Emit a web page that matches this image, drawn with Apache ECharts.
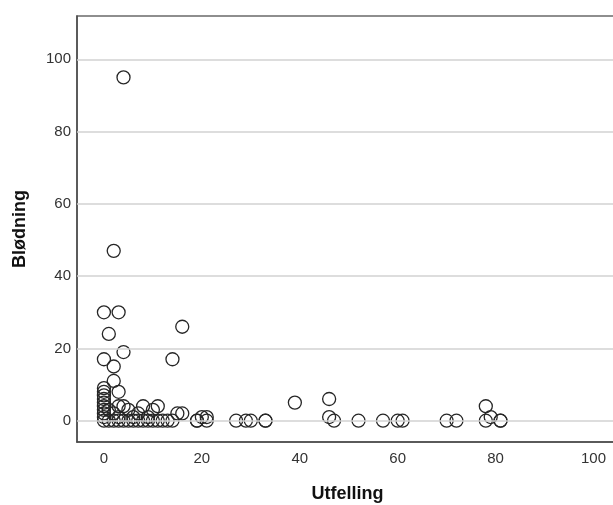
<!DOCTYPE html>
<html>
<head>
<meta charset="utf-8">
<script src="https://cdn.jsdelivr.net/npm/echarts@6/dist/echarts.min.js"></script>
<style>
html,body{margin:0;padding:0;background:#fff;}
#chart{width:613px;height:505px;}
</style>
</head>
<body>
<div id="chart"></div>
<script>
// Data
var utfelling = [
  0,0,0,0,0,0,0,0,0,0,0,0,
  1,1,1,
  2,2,2,2,2,
  3,3,3,3,3,
  4,4,4,4,
  5,5,
  6,6,
  7,7,
  8,8,
  9,9,
  10,10,
  11,11,
  12,13,
  14,14,
  15,
  16,16,
  19,19,20,21,21,
  27,29,30,33,33,
  39,
  46,46,47,
  52,57,60,61,
  70,72,
  78,78,79,81,81
];
var blodning = [
  0,1,2,3,4,5,6,7,8,9,17,30,
  24,0,3,
  47,15,11,0,2,
  30,8,4,0,1,
  95,19,4,0,
  3,0,
  0,1,
  2,0,
  4,0,
  0,1,
  3,0,
  4,0,
  0,0,
  17,0,
  2,
  26,2,
  0,0,1,1,0,
  0,0,0,0,0,
  5,
  6,1,0,
  0,0,0,0,
  0,0,
  4,0,1,0,0
];
var xTicks = [0, 20, 40, 60, 80, 100];
var yTicks = [0, 20, 40, 60, 80, 100];
var xTitle = 'Utfelling';
var yTitle = 'Blødning';

var points = utfelling.map(function (x, i) { return [x, blodning[i]]; });

var chart = echarts.init(document.getElementById('chart'), null, {renderer: 'canvas'});
var labelStyle = {color: '#333333', fontSize: 15, fontFamily: 'Liberation Sans, Arial, sans-serif'};
var option = {
  animation: false,
  backgroundColor: '#ffffff',
  grid: {
    left: 77, top: 16, right: -5, bottom: 63,
    containLabel: false, outerBoundsMode: 'none',
    show: true, borderColor: '#6a6a6a', borderWidth: 1.5, backgroundColor: '#ffffff'
  },
  xAxis: {
    type: 'value', min: -5.5, max: 105,
    name: xTitle, nameLocation: 'middle', nameGap: 43,
    nameTextStyle: {color: '#111', fontSize: 18, fontWeight: 'bold', fontFamily: 'Liberation Sans, Arial, sans-serif'},
    axisLine: {show: true, onZero: false, lineStyle: {color: '#4a4a4a', width: 1.5}},
    axisTick: {show: false, customValues: xTicks},
    axisLabel: Object.assign({customValues: xTicks, margin: 9}, labelStyle),
    splitLine: {show: false}
  },
  yAxis: {
    type: 'value', min: -5.9, max: 112,
    name: yTitle, nameLocation: 'middle', nameGap: 48, nameRotate: 90,
    nameTextStyle: {color: '#111', fontSize: 18, fontWeight: 'bold', fontFamily: 'Liberation Sans, Arial, sans-serif'},
    axisLine: {show: true, onZero: false, lineStyle: {color: '#4a4a4a', width: 1.5}},
    axisTick: {show: false, customValues: yTicks},
    axisLabel: Object.assign({customValues: yTicks, margin: 6}, labelStyle),
    splitLine: {show: false}
  },
  series: [
    {
      type: 'scatter', data: [], z: 1, silent: true,
      markLine: {
        silent: true, symbol: ['none', 'none'], animation: false,
        label: {show: false},
        lineStyle: {color: '#d2d2d2', width: 1.5, type: 'solid'},
        data: yTicks.map(function (v) { return {yAxis: v}; })
      }
    },
    {
      type: 'scatter', z: 2,
      data: points,
      symbol: 'circle', symbolSize: 13,
      itemStyle: {color: 'rgba(255,255,255,0)', borderColor: '#262626', borderWidth: 1.3, opacity: 1}
    }
  ]
};
chart.setOption(option);
</script>
</body>
</html>
